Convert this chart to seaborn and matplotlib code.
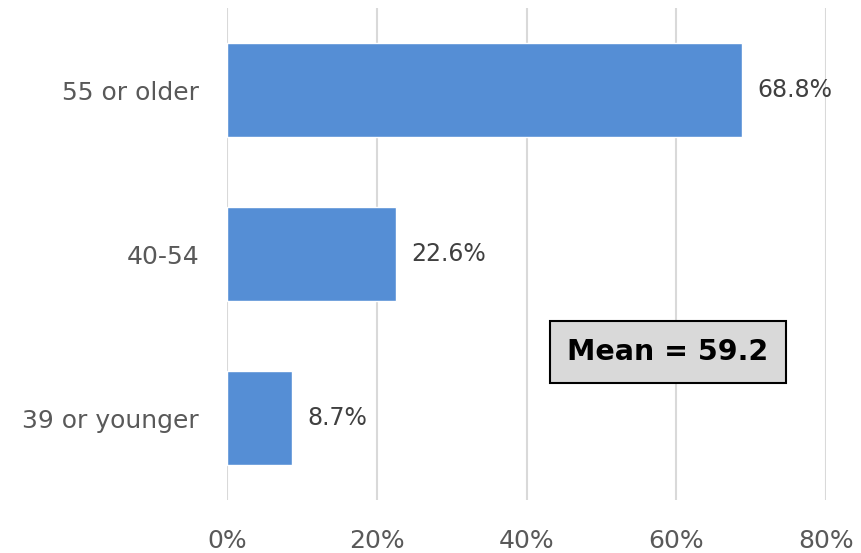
import matplotlib
matplotlib.use("Agg")
import matplotlib.pyplot as plt
import seaborn as sns
import pandas as pd

categories = ["55 or older", "40-54", "39 or younger"]
values = [68.8, 22.6, 8.7]
value_labels = ["68.8%", "22.6%", "8.7%"]
x_ticks = [0, 20, 40, 60, 80]
x_tick_labels = ["0%", "20%", "40%", "60%", "80%"]
mean_text = "Mean = 59.2"

sns.set_style("white")
plt.rcParams['font.family'] = ['DejaVu Sans']

df = pd.DataFrame({"cat": categories, "val": values})

fig = plt.figure(figsize=(8.61, 5.53), dpi=100)
ax = fig.add_axes([227/861, 53/553, (826-227)/861, (500-8)/553])

sns.barplot(data=df, x="val", y="cat", ax=ax, color="#558ED5", saturation=1,
            width=0.57, orient="h")

ax.set_xlim(0, 80)
ax.set_ylim(2.5, -0.5)
ax.set_xticks(x_ticks)
ax.set_xticklabels(x_tick_labels)
ax.set_xlabel("")
ax.set_ylabel("")
for s in ax.spines.values():
    s.set_visible(False)
ax.xaxis.grid(True, color="#d9d9d9", linewidth=1.5)
ax.set_axisbelow(True)
ax.tick_params(axis="x", labelsize=18, colors="#595959", length=0, pad=21)
ax.tick_params(axis="y", labelsize=18, colors="#595959", length=0, pad=20)
for lbl in ax.get_xticklabels() + ax.get_yticklabels():
    lbl.set_color("#595959")

for i, (v, t) in enumerate(zip(values, value_labels)):
    ax.text(v + 2.0, i, t, va="center", ha="left", fontsize=17, color="#404040")

ax.text(58.9, 1.6, mean_text, ha="center", va="center", fontsize=20.5,
        fontweight="bold", color="black",
        bbox=dict(boxstyle="square,pad=0.6", facecolor="#d9d9d9",
                  edgecolor="black", linewidth=1.5))

fig.savefig("out.png", dpi=100)
